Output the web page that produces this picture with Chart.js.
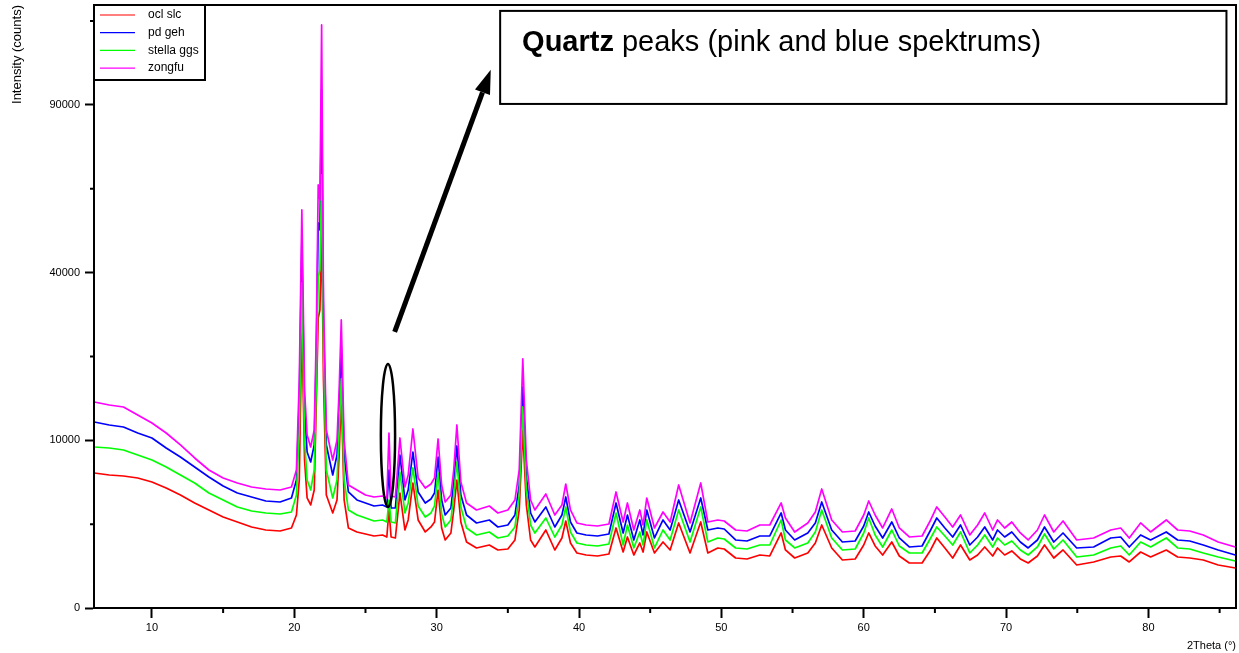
<!DOCTYPE html>
<html>
<head>
<meta charset="utf-8">
<title>XRD spectra</title>
<script src="https://cdn.jsdelivr.net/npm/chart.js@4.4.1/dist/chart.umd.min.js"></script>
<style>
  html, body { margin: 0; padding: 0; background: #fff; }
  #wrap { width: 1239px; height: 653px; }
</style>
</head>
<body>
<div id="wrap"><canvas id="xrd" width="1239" height="653"></canvas></div>
<script>
// 2Theta positions (deg)
const theta = [
  5.95, 7.0, 8.0, 9.0, 10.0, 11.0, 12.0, 13.0, 14.0, 15.0,
  16.0, 17.0, 18.0, 19.0, 19.8, 20.15, 20.35, 20.53, 20.72, 20.9,
  21.15, 21.4, 21.55, 21.68, 21.8, 21.92, 22.05, 22.25, 22.7, 23.0,
  23.15, 23.3, 23.5, 23.8, 24.4, 25.0, 25.6, 26.2, 26.5, 26.65,
  26.8, 27.1, 27.42, 27.77, 28.0, 28.33, 28.7, 29.2, 29.6, 29.85,
  30.1, 30.35, 30.6, 31.0, 31.2, 31.42, 31.7, 32.1, 32.8, 33.7,
  34.3, 35.0, 35.5, 35.8, 36.05, 36.3, 36.6, 36.9, 37.67, 38.3,
  38.8, 39.07, 39.4, 39.85, 40.5, 41.3, 42.1, 42.6, 43.1, 43.4,
  43.85, 44.27, 44.5, 44.76, 45.3, 45.9, 46.4, 47.0, 47.8, 48.55,
  49.05, 49.75, 50.2, 51.0, 51.8, 52.7, 53.4, 54.2, 54.5, 55.15,
  56.07, 56.6, 57.05, 57.75, 58.5, 59.4, 60.0, 60.35, 60.8, 61.33,
  61.97, 62.5, 63.2, 64.1, 64.7, 65.13, 65.7, 66.25, 66.8, 67.45,
  68.0, 68.5, 69.06, 69.4, 69.9, 70.4, 71.0, 71.55, 72.2, 72.7,
  73.35, 74.0, 74.96, 76.15, 77.35, 78.05, 78.65, 79.45, 80.15, 81.25,
  82.05, 82.9, 83.85, 84.9, 86.1
];

// intensities (counts)
const oclSlc = [
  6483, 6292, 6198, 6011, 5647, 5122, 4542, 3922, 3416, 2946,
  2631, 2334, 2164, 2109, 2277, 3076, 5828, 28690, 7791, 4304,
  3774, 4953, 15389, 29915, 31588, 50824, 18491, 4542, 3210, 4149,
  8327, 16138, 4149, 2277, 2055, 1948, 1844, 1896, 1793, 3416,
  1793, 1743, 4704, 2164, 2755, 5558, 2755, 2055, 2334, 2631,
  4953, 2277, 1645, 2001, 3416, 5828, 2631, 1549, 1281, 1412,
  1197, 1238, 1645, 3416, 11270, 3774, 1645, 1324, 2164, 1197,
  1743, 2692, 1503, 1076, 999, 962, 1037, 2277, 1115, 1793,
  999, 1503, 1115, 2055, 1076, 1549, 1197, 2570, 1076, 2631,
  1076, 1281, 1238, 889, 854, 999, 962, 2001, 1197, 889,
  1076, 1503, 2450, 1281, 820, 854, 1412, 2001, 1367, 999,
  1549, 962, 720, 720, 1197, 1743, 1281, 889, 1412, 820,
  999, 1324, 962, 1281, 999, 1156, 854, 720, 962, 1412,
  889, 1197, 658, 753, 925, 962, 753, 1115, 925, 1197,
  925, 889, 820, 658, 569
];
const pdGeh = [
  12306, 11912, 11653, 10893, 10280, 9106, 8110, 7072, 6104, 5294,
  4704, 4383, 4072, 3997, 4304, 5828, 15389, 47389, 13945, 8656,
  7582, 9451, 23677, 52725, 50824, 95445, 29503, 9451, 6292, 8327,
  14658, 24417, 8327, 4786, 4149, 3922, 3701, 3774, 3629, 6774,
  3557, 3557, 8327, 4149, 4953, 8656, 4786, 3922, 4226, 4704,
  8110, 4149, 3076, 3557, 5647, 9335, 4542, 3076, 2570, 2755,
  2334, 2450, 3076, 5381, 17373, 6104, 3210, 2631, 3629, 2334,
  3076, 4383, 2631, 2001, 1896, 1844, 1948, 3922, 2001, 3076,
  1645, 2755, 1896, 3416, 1743, 2755, 2164, 4149, 2055, 4304,
  2164, 2277, 2220, 1645, 1597, 1844, 1844, 3210, 2164, 1645,
  2001, 2570, 3997, 2164, 1549, 1597, 2392, 3278, 2392, 1743,
  2631, 1743, 1324, 1367, 2164, 2881, 2277, 1793, 2450, 1412,
  1793, 2334, 1645, 2164, 1793, 2055, 1549, 1281, 1645, 2334,
  1549, 2001, 1281, 1324, 1743, 1793, 1324, 1896, 1645, 2055,
  1645, 1597, 1412, 1197, 999
];
const stellaGgs = [
  9220, 9106, 8880, 8327, 7791, 7072, 6292, 5558, 4704, 4149,
  3629, 3347, 3210, 3143, 3278, 4542, 11270, 37571, 10040, 5828,
  4953, 6774, 18491, 38971, 40637, 66691, 23677, 6774, 4304, 5828,
  11270, 18653, 5828, 3416, 3076, 2881, 2692, 2755, 2631, 4149,
  2631, 2570, 6579, 3210, 3922, 6972, 3701, 2946, 3210, 3701,
  6483, 3143, 2334, 2755, 4542, 7582, 3629, 2277, 1896, 2055,
  1743, 1844, 2334, 4542, 14371, 4953, 2450, 2001, 2881, 1793,
  2450, 3629, 2055, 1503, 1412, 1367, 1457, 3210, 1412, 2450,
  1281, 2055, 1412, 2755, 1281, 2164, 1645, 3416, 1549, 3629,
  1549, 1743, 1693, 1281, 1238, 1412, 1412, 2755, 1645, 1281,
  1503, 2055, 3416, 1743, 1197, 1238, 2001, 2881, 1896, 1324,
  2164, 1367, 1076, 1076, 1743, 2334, 1844, 1412, 2055, 1076,
  1412, 1896, 1324, 1743, 1412, 1597, 1197, 999, 1324, 1948,
  1238, 1645, 925, 999, 1281, 1367, 999, 1549, 1324, 1743,
  1281, 1238, 1076, 925, 786
];
const zongfu = [
  15095, 14658, 14371, 13250, 12174, 10893, 9451, 8003, 6774, 6011,
  5558, 5208, 5037, 4953, 5208, 6774, 18491, 56345, 16904, 10646,
  9220, 11270, 27490, 63646, 59211, 120900, 33743, 11270, 7791, 10040,
  16904, 29503, 10040, 5381, 4953, 4542, 4383, 4462, 4304, 10893,
  4462, 4383, 10280, 5208, 6292, 11397, 6011, 5122, 5469, 6011,
  10159, 5381, 3997, 4542, 6774, 11912, 5647, 3922, 3416, 3701,
  3210, 3416, 4149, 6774, 22054, 7791, 4149, 3416, 4623, 3076,
  3774, 5469, 3416, 2570, 2450, 2392, 2510, 4786, 2631, 3922,
  2164, 3416, 2450, 4304, 2277, 3278, 2631, 5381, 2570, 5558,
  2631, 2755, 2692, 2164, 2109, 2450, 2450, 3922, 2881, 2055,
  2570, 3278, 5037, 2755, 2055, 2109, 3076, 4072, 3076, 2277,
  3486, 2277, 1793, 1844, 2755, 3629, 2946, 2334, 3076, 1896,
  2450, 3210, 2164, 2755, 2277, 2631, 2001, 1645, 2164, 3076,
  2055, 2692, 1645, 1743, 2164, 2277, 1743, 2570, 2055, 2755,
  2164, 2109, 1896, 1549, 1324
];

const seriesNames = ["ocl slc", "pd geh", "stella ggs", "zongfu"];
const seriesValues = [oclSlc, pdGeh, stellaGgs, zongfu];
const seriesColors = ["#ff0000", "#0000ff", "#00ff00", "#ff00ff"];

const xMajorTicks = [10, 20, 30, 40, 50, 60, 70, 80];
const xMinorTicks = [15, 25, 35, 45, 55, 65, 75, 85];
const yMajorTicks = [0, 10000, 40000, 90000];
const yMinorTicks = [2500, 22500, 62500, 122500];

const noteBold = "Quartz";
const noteRest = " peaks (pink and blue spektrums)";

// annotation anchors, in 2Theta / counts
const quartzRing = { x: 26.58, halfWidth: 0.5, low: 3630, high: 21180 };
const arrowFrom = { x: 27.05, y: 27100 };
const arrowTo = { x: 33.8, y: 103000 };
const noteBox = { x0: 34.46, x1: 85.48, y0: 90350, y1: 126780, textX: 36.0, textY: 110400 };

const FONT = "'Liberation Sans', Arial, sans-serif";

// square-root intensity axis
class SqrtScale extends Chart.LinearScale {
  getPixelForValue(value) {
    const lo = Math.sqrt(Math.max(this.min, 0));
    const hi = Math.sqrt(this.max);
    return this.getPixelForDecimal((Math.sqrt(Math.max(value, 0)) - lo) / (hi - lo));
  }
  getValueForPixel(pixel) {
    const lo = Math.sqrt(Math.max(this.min, 0));
    const hi = Math.sqrt(this.max);
    const s = lo + this.getDecimalForPixel(pixel) * (hi - lo);
    return s * s;
  }
}
SqrtScale.id = "sqrt";
SqrtScale.defaults = Chart.LinearScale.defaults;
Chart.register(SqrtScale);

// no extra room for half-labels, the frame is fixed
function noLabelPadding(axis) {
  axis.paddingTop = 0;
  axis.paddingBottom = 0;
  axis.paddingLeft = 0;
  axis.paddingRight = 0;
}

const datasets = seriesNames.map((name, i) => ({
  label: name,
  data: theta.map((t, k) => ({ x: t, y: seriesValues[i][k] })),
  borderColor: seriesColors[i],
  borderWidth: 1.7,
  borderJoinStyle: "round",
  pointRadius: 0,
  fill: false,
  tension: 0,
  order: seriesNames.length - i, // zongfu drawn on top
}));

const decorations = {
  id: "decorations",
  beforeDraw(chart) {
    const { ctx, width, height } = chart;
    ctx.save();
    ctx.fillStyle = "#fff";
    ctx.fillRect(0, 0, width, height);
    ctx.restore();
  },
  afterDraw(chart) {
    const { ctx, chartArea: a, scales: { x, y } } = chart;
    ctx.save();
    ctx.strokeStyle = "#000";
    ctx.fillStyle = "#000";

    // frame
    ctx.lineWidth = 2;
    ctx.strokeRect(a.left, a.top, a.right - a.left, a.bottom - a.top);

    // minor ticks
    ctx.beginPath();
    xMinorTicks.forEach(v => {
      const px = x.getPixelForValue(v);
      ctx.moveTo(px, a.bottom);
      ctx.lineTo(px, a.bottom + 5);
    });
    yMinorTicks.forEach(v => {
      const py = y.getPixelForValue(v);
      ctx.moveTo(a.left - 4, py);
      ctx.lineTo(a.left, py);
    });
    ctx.stroke();

    // legend box
    ctx.fillStyle = "#fff";
    ctx.fillRect(a.left, a.top, 111, 75);
    ctx.lineWidth = 2;
    ctx.strokeRect(a.left, a.top, 111, 75);
    ctx.font = `12px ${FONT}`;
    ctx.textBaseline = "middle";
    ctx.textAlign = "left";
    seriesNames.forEach((name, i) => {
      const ry = a.top + 10 + i * 17.7;
      ctx.strokeStyle = seriesColors[i];
      ctx.lineWidth = 1.2;
      ctx.beginPath();
      ctx.moveTo(a.left + 6, ry);
      ctx.lineTo(a.left + 41, ry);
      ctx.stroke();
      ctx.fillStyle = "#000";
      ctx.fillText(name, a.left + 54, ry);
    });

    // ellipse round the quartz peak
    const cx = x.getPixelForValue(quartzRing.x);
    const top = y.getPixelForValue(quartzRing.high);
    const bot = y.getPixelForValue(quartzRing.low);
    const rx = x.getPixelForValue(quartzRing.x + quartzRing.halfWidth) - cx;
    ctx.strokeStyle = "#000";
    ctx.lineWidth = 2.5;
    ctx.beginPath();
    ctx.ellipse(cx, (top + bot) / 2, rx, (bot - top) / 2, 0, 0, Math.PI * 2);
    ctx.stroke();

    // arrow
    const x1 = x.getPixelForValue(arrowFrom.x), y1 = y.getPixelForValue(arrowFrom.y);
    const x2 = x.getPixelForValue(arrowTo.x), y2 = y.getPixelForValue(arrowTo.y);
    const ang = Math.atan2(y2 - y1, x2 - x1);
    const head = 24, half = 8;
    const bx = x2 - head * Math.cos(ang), by = y2 - head * Math.sin(ang);
    ctx.lineWidth = 5;
    ctx.beginPath();
    ctx.moveTo(x1, y1);
    ctx.lineTo(bx, by);
    ctx.stroke();
    ctx.fillStyle = "#000";
    ctx.beginPath();
    ctx.moveTo(x2, y2);
    ctx.lineTo(bx + half * Math.sin(ang), by - half * Math.cos(ang));
    ctx.lineTo(bx - half * Math.sin(ang), by + half * Math.cos(ang));
    ctx.closePath();
    ctx.fill();

    // note box
    const nx0 = x.getPixelForValue(noteBox.x0), nx1 = x.getPixelForValue(noteBox.x1);
    const ny0 = y.getPixelForValue(noteBox.y1), ny1 = y.getPixelForValue(noteBox.y0);
    ctx.fillStyle = "#fff";
    ctx.fillRect(nx0, ny0, nx1 - nx0, ny1 - ny0);
    ctx.lineWidth = 2;
    ctx.strokeRect(nx0, ny0, nx1 - nx0, ny1 - ny0);
    const tx = x.getPixelForValue(noteBox.textX), ty = y.getPixelForValue(noteBox.textY);
    ctx.fillStyle = "#000";
    ctx.textBaseline = "alphabetic";
    ctx.font = `bold 29px ${FONT}`;
    ctx.fillText(noteBold, tx, ty);
    const w = ctx.measureText(noteBold).width;
    ctx.font = `29px ${FONT}`;
    ctx.fillText(noteRest, tx + w, ty);

    ctx.restore();
  },
};

new Chart(document.getElementById("xrd"), {
  type: "line",
  data: { datasets },
  options: {
    responsive: false,
    animation: false,
    devicePixelRatio: 1,
    layout: { padding: { top: 5, right: 3, left: 0, bottom: 0 } },
    plugins: { legend: { display: false }, tooltip: { enabled: false } },
    scales: {
      x: {
        type: "linear",
        min: 5.93,
        max: 86.15,
        afterBuildTicks: axis => { axis.ticks = xMajorTicks.map(v => ({ value: v })); },
        afterFit: axis => { axis.height = 45; noLabelPadding(axis); },
        ticks: {
          callback: v => String(v),
          color: "#000",
          font: { family: FONT, size: 11 },
          padding: 3,
          maxRotation: 0,
          autoSkip: false,
        },
        grid: { drawOnChartArea: false, tickLength: 10, tickWidth: 2, tickColor: "#000" },
        border: { color: "#000", width: 2 },
        title: {
          display: true,
          text: "2Theta (°)",
          align: "end",
          color: "#000",
          font: { family: FONT, size: 11 },
          padding: { top: 1, bottom: 0 },
        },
      },
      y: {
        type: "sqrt",
        min: 0,
        max: 129300,
        afterBuildTicks: axis => { axis.ticks = yMajorTicks.map(v => ({ value: v })); },
        afterFit: axis => { axis.width = 94; noLabelPadding(axis); },
        ticks: {
          callback: v => String(v),
          color: "#000",
          font: { family: FONT, size: 11 },
          padding: 5,
          autoSkip: false,
        },
        grid: { drawOnChartArea: false, tickLength: 9, tickWidth: 2, tickColor: "#000" },
        border: { color: "#000", width: 2 },
        title: {
          display: true,
          text: "Intensity (counts)",
          align: "end",
          color: "#000",
          font: { family: FONT, size: 13 },
          padding: { top: 10, bottom: 0 },
        },
      },
    },
  },
  plugins: [decorations],
});
</script>
</body>
</html>
